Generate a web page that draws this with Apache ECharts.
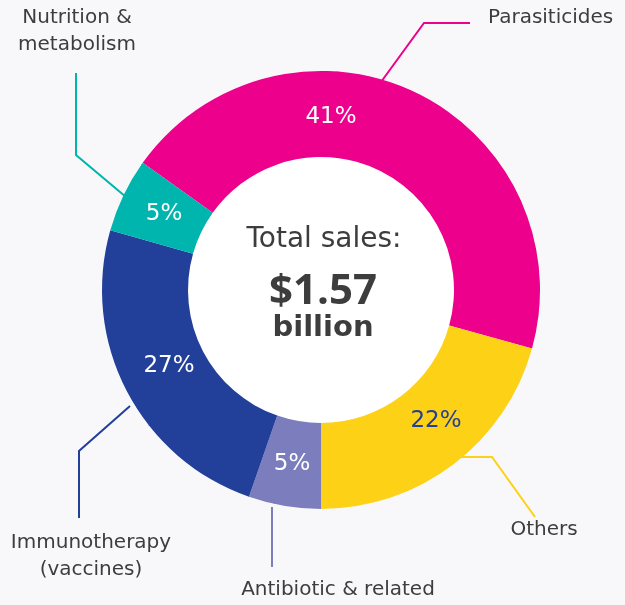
<!DOCTYPE html>
<html>
<head>
<meta charset="utf-8">
<script src="https://cdn.jsdelivr.net/npm/echarts@6/dist/echarts.min.js"></script>
<style>
  html, body { margin: 0; padding: 0; background: #f8f8fb; }
  #chart { width: 625px; height: 605px; }
</style>
</head>
<body>
<div id="chart"></div>
<script>
// segments, clockwise from the top-left
const categories = ['Parasiticides', 'Others', 'Antibiotic & related', 'Immunotherapy\n(vaccines)', 'Nutrition &\nmetabolism']
// printed shares
const pctLabels = ['41%', '22%', '5%', '27%', '5%']
// arc sizes as drawn (degrees)
const arcSizes = [160, 74.5, 19.2, 86.6, 19.7]
const colors = ['#ec008c', '#fdd116', '#7b7dbd', '#223f99', '#00b5ad']
const pctColors = ['#ffffff', '#223f99', '#ffffff', '#ffffff', '#ffffff']

const totalTitle = 'Total sales:'
const totalValue = '$1.57'
const totalUnit = 'billion'

const FONT = '"DejaVu Sans", "Open Sans", sans-serif'
const NUM_FONT = '"Open Sans", sans-serif'
const TEXT = '#3d3d3d'
const CENTER = [321, 290]
const RING = [133, 219]

// where the inner percent labels sit
const pctPos = [[331, 117], [436, 421], [292, 464], [169, 366], [164, 214]]
// outer label anchors and leader lines
const outerPos = [
  { x: 488, y: 18, align: 'left', line: [[381, 82], [424, 23], [470, 23]] },
  { x: 544, y: 530, align: 'center', line: [[448, 457], [492, 457], [535, 517]] },
  { x: 338, y: 590, align: 'center', line: [[272, 507], [272, 537], [272, 567]] },
  { x: 91, y: 556, align: 'center', line: [[130, 406], [79, 451], [79, 518]] },
  { x: 77, y: 31, align: 'center', line: [[126, 197], [76, 155], [76, 73]] }
]

const chart = echarts.init(document.getElementById('chart'))

const ringData = categories.map((c, i) => ({
  name: c,
  value: arcSizes[i],
  itemStyle: { color: colors[i] },
  label: { color: pctColors[i] }
}))

const outerData = categories.map((c, i) => ({
  name: c,
  value: arcSizes[i],
  labelLine: { lineStyle: { color: colors[i], width: 2 } }
}))

chart.setOption({
  backgroundColor: '#f8f8fb',
  animation: false,
  graphic: [
    { type: 'text', z: 100, x: 324, y: 240, style: { text: totalTitle, font: '400 28px ' + FONT, fill: TEXT, align: 'center', verticalAlign: 'middle' } },
    { type: 'text', z: 100, x: 323, y: 292, style: { text: totalValue, font: 'bold 42px ' + NUM_FONT, fill: TEXT, align: 'center', verticalAlign: 'middle' } },
    { type: 'text', z: 100, x: 323, y: 328, style: { text: totalUnit, font: '600 29px ' + FONT, fill: TEXT, align: 'center', verticalAlign: 'middle' } }
  ],
  series: [
    {
      // white hole
      type: 'pie',
      silent: true,
      z: 1,
      center: CENTER,
      radius: [0, RING[0]],
      label: { show: false },
      labelLine: { show: false },
      itemStyle: { color: '#ffffff' },
      data: [{ value: 1, name: '' }]
    },
    {
      type: 'pie',
      center: CENTER,
      radius: RING,
      startAngle: 144.5,
      clockwise: true,
      silent: true,
      data: ringData,
      label: {
        show: true,
        position: 'inside',
        formatter: p => pctLabels[p.dataIndex],
        fontFamily: FONT,
        fontSize: 23
      },
      labelLayout: p => ({
        x: pctPos[p.dataIndex][0],
        y: pctPos[p.dataIndex][1],
        align: 'center',
        verticalAlign: 'middle'
      })
    },
    {
      type: 'pie',
      center: CENTER,
      radius: RING,
      startAngle: 144.5,
      clockwise: true,
      silent: true,
      itemStyle: { color: 'rgba(0,0,0,0)' },
      data: outerData,
      label: {
        show: true,
        position: 'outside',
        formatter: '{b}',
        fontFamily: FONT,
        fontSize: 20,
        lineHeight: 27,
        color: TEXT,
        align: 'center',
        overflow: 'none',
        width: 300
      },
      labelLine: { show: true, length: 10, length2: 10, lineStyle: { width: 2 } },
      labelLayout: p => {
        const o = outerPos[p.dataIndex]
        return {
          x: o.x,
          y: o.y,
          align: o.align,
          verticalAlign: 'middle',
          labelLinePoints: o.line
        }
      }
    }
  ]
})
</script>
</body>
</html>
